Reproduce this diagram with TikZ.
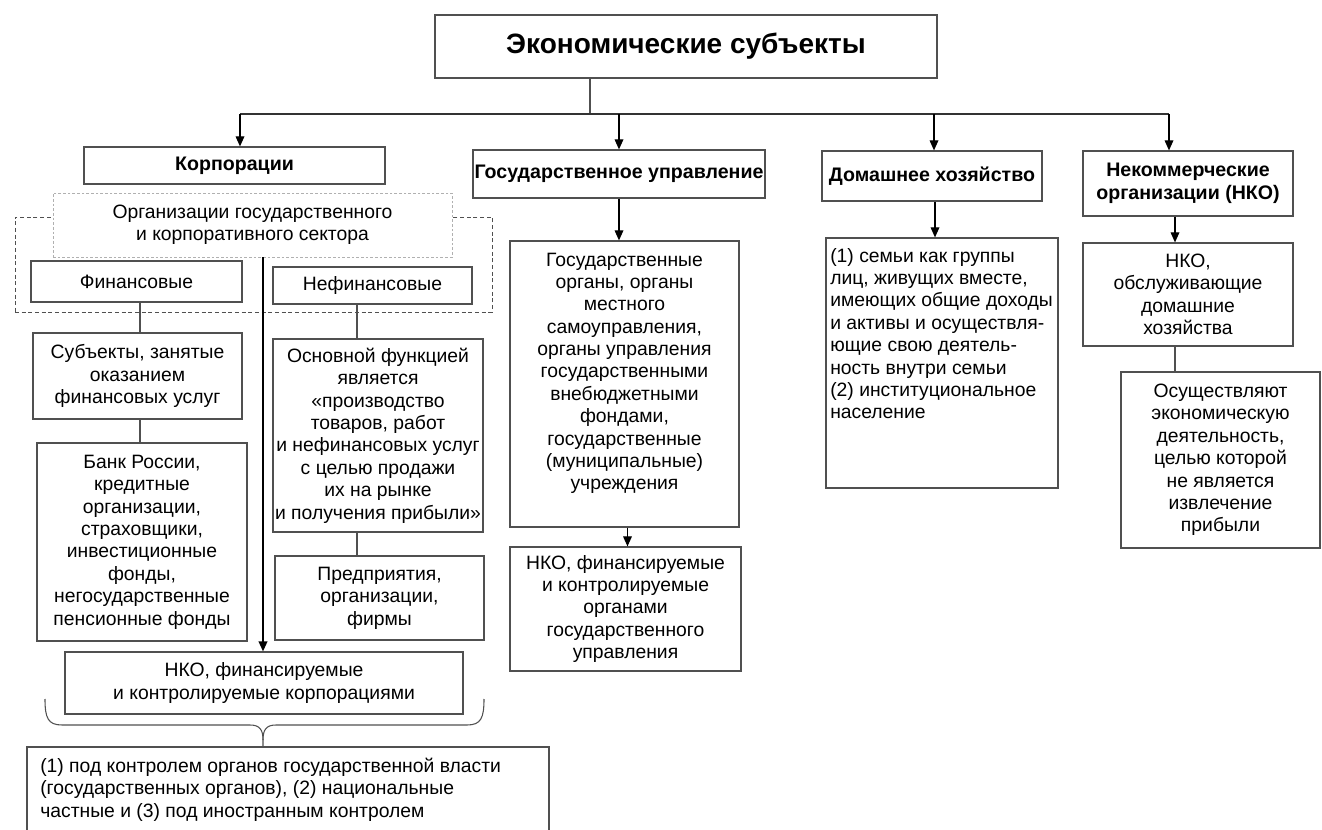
\documentclass[tikz,border=0pt]{standalone}
\usepackage{fontspec}
\setmainfont{Liberation Sans}
\usetikzlibrary{arrows.meta,calc}
\definecolor{boxc}{HTML}{505050}
\definecolor{dashc}{HTML}{505050}
\definecolor{lightc}{HTML}{B0B0B0}
\newcommand\bodyf{\fontsize{14.5}{16.8}\selectfont}
\newcommand\headf{\fontsize{14.7}{17.2}\selectfont\bfseries}
\newcommand\titlef{\fontsize{21}{24}\selectfont\bfseries}
\newcommand\bx[7][]{\node[bx,minimum width={(#5-(#3))*0.75pt},minimum height={(#6-(#4))*0.75pt},#1] (#2) at ({(#3+#5)/2},{(#4+#6)/2}) {#7};}
\begin{document}
\begin{tikzpicture}[x=0.75pt,y=-0.75pt,
  bx/.style={draw=boxc,line width=0.9pt,inner sep=0pt,align=center,font=\bodyf},
  txt/.style={inner sep=0pt,font=\bodyf},
  arr/.style={-{Triangle[length=7.5pt,width=6.5pt]},line width=0.9pt,draw=black},
  ln/.style={line width=0.8pt,draw=boxc}]
\useasboundingbox (0,0) rectangle (1322,830);
\clip (0,0) rectangle (1322,830);
% headers
\bx[font=\titlef]{top}{435}{15}{937}{78}{Экономические субъекты}
\bx[font=\headf]{korp}{84}{147}{385}{184}{Корпорации}
\bx[font=\headf]{gov}{473}{150}{765}{198}{Государственное управление}
\bx[font=\headf]{dom}{822}{151}{1042}{201}{Домашнее хозяйство}
\bx[font=\headf]{nko}{1083}{151}{1293}{216}{Некоммерческие\\организации (НКО)}
% corporations
\bx[draw=dashc,dash pattern=on 3pt off 2pt,line width=0.7pt]{frame}{15}{217}{492}{312}{}
\bx[draw=lightc,dash pattern=on 2pt off 1.5pt,line width=0.7pt,fill=white]{org}{53}{193}{452}{257}{Организации государственного\\и корпоративного сектора}
\bx{fin}{31}{261}{242}{302}{Финансовые}
\bx{nefin}{273}{267}{472}{304}{Нефинансовые}
\bx{subj}{33}{333}{242}{419}{Субъекты, занятые\\оказанием\\финансовых услуг}
\bx{bank}{37}{443}{247}{641}{Банк России,\\кредитные\\организации,\\страховщики,\\инвестиционные\\фонды,\\негосударственные\\пенсионные фонды}
\bx{osn}{273}{339}{483}{532}{Основной функцией\\является\\«производство\\товаров, работ\\и нефинансовых услуг\\с целью продажи\\их на рынке\\и получения прибыли»}
\bx{pred}{275}{556}{484}{640}{Предприятия,\\организации,\\фирмы}
\bx{nkocorp}{65}{652}{463}{714}{НКО, финансируемые\\и контролируемые корпорациями}
\bx{bottom}{27}{747}{549}{870}{}
\node[txt,anchor=base west,align=left] (bottomt) at (40,817) {(1) под контролем органов государственной власти\\(государственных органов), (2) национальные\\частные и (3) под иностранным контролем};
% government
\bx{govorg}{510}{241}{739}{527}{}
\node[txt,anchor=base,align=center] (govorgt) at (624.5,490) {Государственные\\органы, органы\\местного\\самоуправления,\\органы управления\\государственными\\внебюджетными\\фондами,\\государственные\\(муниципальные)\\учреждения};
\bx{nkogov}{510}{547}{741}{671}{НКО, финансируемые\\и контролируемые\\органами\\государственного\\управления}
% households
\bx{semi}{826}{238}{1058}{488}{}
\node[txt,anchor=base west,align=left] (semit) at (830,419) {(1) семьи как группы\\лиц, живущих вместе,\\имеющих общие доходы\\и активы и осуществля-\\ющие свою деятель-\\ность внутри семьи\\(2) институциональное\\население};
% NPO
\bx{nkoserv}{1083}{243}{1293}{346}{НКО,\\обслуживающие\\домашние\\хозяйства}
\bx{osush}{1121}{372}{1320}{548}{Осуществляют\\экономическую\\деятельность,\\целью которой\\не является\\извлечение\\прибыли}
% connectors
\coordinate (t0) at (590,114);
\coordinate (hl) at (240,114);
\coordinate (h2) at (619,114);
\coordinate (h3) at (934,114);
\coordinate (hr) at (1169,114);
\draw[ln] (t0 |- top.south) -- (t0);
\draw[ln,draw=black!80] (hl) -- (hr);
\draw[arr] (hl) -- (hl |- korp.north);
\draw[arr] (h2) -- (h2 |- gov.north);
\draw[arr] (h3) -- (h3 |- dom.north);
\draw[arr] (hr) -- (hr |- nko.north);
\draw[arr] (gov.south) -- (gov.south |- govorg.north);
\draw[arr] (govorg.south) ++(3,0) coordinate (g2) -- (g2 |- nkogov.north);
\draw[arr] ($(dom.south)+(3,0)$) coordinate (d2) -- (d2 |- semi.north);
\coordinate (c4) at (1175,0);
\draw[arr] (c4 |- nko.south) -- (c4 |- nkoserv.north);
\draw[ln] (c4 |- nkoserv.south) -- (c4 |- osush.north);
\coordinate (c1) at (140,0);
\draw[ln] (c1 |- fin.south) -- (c1 |- subj.north);
\draw[ln] (c1 |- subj.south) -- (c1 |- bank.north);
\coordinate (c2) at (357,0);
\draw[ln] (c2 |- nefin.south) -- (c2 |- osn.north);
\draw[ln] (c2 |- osn.south) -- (c2 |- pred.north);
\coordinate (c3) at (263,0);
\draw[arr,line width=1.2pt] (c3 |- org.south) -- (c3 |- nkocorp.north);
% brace
\coordinate (bt) at (bottom.north -| c3);
\draw[ln] (45,699) .. controls (45,718) and (48,725) .. (62,725) -- (250,725) .. controls (260,725) and (263,730) .. (263,740) -- (bt);
\draw[ln] (484,699) .. controls (484,718) and (481,725) .. (467,725) -- (276,725) .. controls (266,725) and (263,730) .. (263,740);
\end{tikzpicture}
\end{document}
